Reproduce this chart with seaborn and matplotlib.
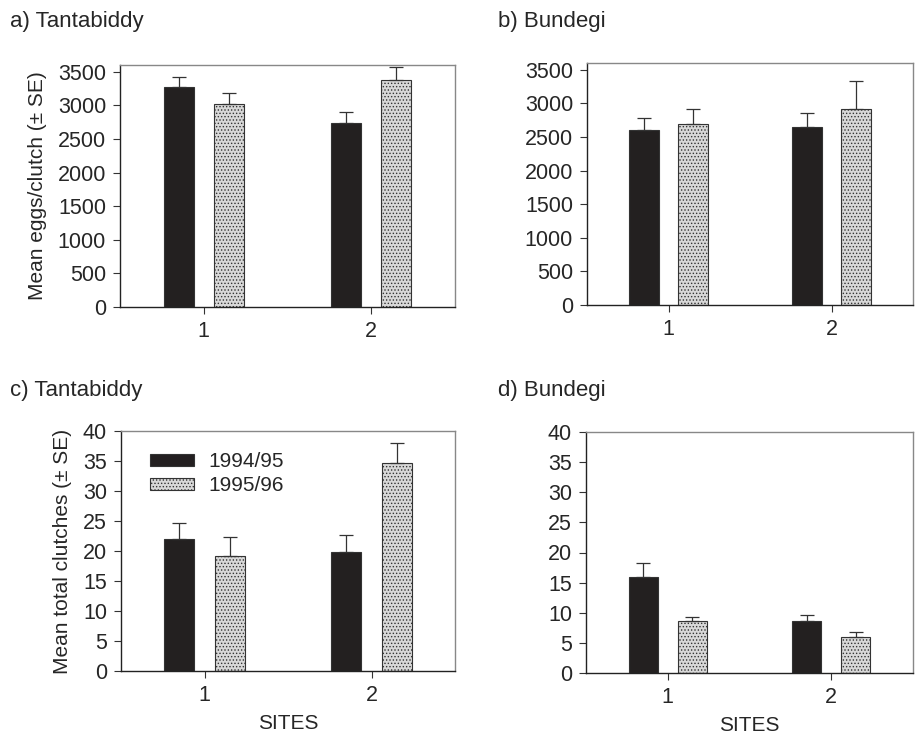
import numpy as np
import pandas as pd
import matplotlib
matplotlib.use('Agg')
import matplotlib.pyplot as plt
import seaborn as sns
from matplotlib.patches import Patch

# Data
sites = ['1', '2']
seasons = ['1994/95', '1995/96']

# a) Tantabiddy, eggs per clutch
eggs_tanta_9495 = [3280, 2730]
eggs_tanta_9596 = [3015, 3370]
eggs_tanta_se_9495 = [140, 165]
eggs_tanta_se_9596 = [175, 200]

# b) Bundegi, eggs per clutch
eggs_bund_9495 = [2600, 2650]
eggs_bund_9596 = [2690, 2915]
eggs_bund_se_9495 = [175, 205]
eggs_bund_se_9596 = [225, 410]

# c) Tantabiddy, total clutches
clutch_tanta_9495 = [22.0, 19.8]
clutch_tanta_9596 = [19.2, 34.6]
clutch_tanta_se_9495 = [2.6, 2.9]
clutch_tanta_se_9596 = [3.2, 3.4]

# d) Bundegi, total clutches
clutch_bund_9495 = [15.9, 8.7]
clutch_bund_9596 = [8.6, 5.9]
clutch_bund_se_9495 = [2.4, 0.9]
clutch_bund_se_9596 = [0.7, 0.9]

sns.set_theme(style='white')
plt.rcParams['font.family'] = ['Liberation Sans', 'DejaVu Sans']
plt.rcParams['hatch.color'] = '#a0a0a0'
plt.rcParams['hatch.linewidth'] = 0.6

colors = {'1994/95': '#231f20', '1995/96': '#d8d8d8'}

W, H = 915, 747


def rect(l, t, r, b):
    return [l / W, 1 - b / H, (r - l) / W, (b - t) / H]


def panel(fig, box, v1, v2, e1, e2, ymax, ystep, ylabel=None, xlabel=None, legend=False):
    ax = fig.add_axes(rect(*box))
    df = pd.DataFrame({
        'site': sites * 2,
        'season': [seasons[0]] * 2 + [seasons[1]] * 2,
        'value': list(v1) + list(v2),
        'se': list(e1) + list(e2),
    })
    sns.barplot(data=df, x='site', y='value', hue='season', order=sites, hue_order=seasons,
                palette=colors, errorbar=None, width=0.6, gap=0.4, ax=ax,
                edgecolor='#333333', linewidth=0.8, legend=False)
    # one-sided standard error bars on each bar
    for patch, (_, row) in zip(ax.patches, df.iterrows()):
        xc = patch.get_x() + patch.get_width() / 2
        ax.errorbar(xc, row['value'], yerr=[[0], [row['se']]], fmt='none',
                    ecolor='#333333', elinewidth=0.9, capsize=5, capthick=0.9)
    for patch in ax.patches[2:4]:
        patch.set_hatch('.....')
    ax.set_xlim(-0.5, 1.5)
    ax.set_ylim(0, ymax)
    ax.set_yticks(np.arange(0, ymax + 0.5 * ystep, ystep))
    for s in ['left', 'bottom']:
        ax.spines[s].set_color('#222222')
        ax.spines[s].set_linewidth(1.0)
    for s in ['top', 'right']:
        ax.spines[s].set_color('#888888')
        ax.spines[s].set_linewidth(1.0)
    ax.tick_params(axis='both', which='both', direction='out', length=5, width=0.8,
                   color='#333333', labelsize=15.5, left=True, bottom=True, pad=5)
    ax.set_xlabel(xlabel if xlabel else '', fontsize=15, labelpad=6)
    ax.set_ylabel(ylabel if ylabel else '', fontsize=15, labelpad=8)
    if legend:
        handles = [Patch(facecolor=colors[s], edgecolor='#333333', linewidth=0.8,
                         hatch='.....' if s == '1995/96' else None) for s in seasons]
        ax.legend(handles, seasons, loc='upper left', bbox_to_anchor=(0.03, 0.99), frameon=False,
                  fontsize=15, handlelength=2.1, handleheight=0.55, labelspacing=0.25,
                  handletextpad=0.7)
    return ax


fig = plt.figure(figsize=(9.15, 7.47), dpi=100)

panel(fig, (120, 65, 455, 307), eggs_tanta_9495, eggs_tanta_9596,
      eggs_tanta_se_9495, eggs_tanta_se_9596, 3600, 500, ylabel='Mean eggs/clutch (± SE)')
panel(fig, (587, 63, 913, 305), eggs_bund_9495, eggs_bund_9596,
      eggs_bund_se_9495, eggs_bund_se_9596, 3600, 500)
panel(fig, (121, 431, 455, 671), clutch_tanta_9495, clutch_tanta_9596,
      clutch_tanta_se_9495, clutch_tanta_se_9596, 40, 5, ylabel='Mean total clutches (± SE)',
      xlabel='SITES', legend=True)
panel(fig, (586, 432, 913, 673), clutch_bund_9495, clutch_bund_9596,
      clutch_bund_se_9495, clutch_bund_se_9596, 40, 5, xlabel='SITES')

titles = ['a) Tantabiddy', 'b) Bundegi', 'c) Tantabiddy', 'd) Bundegi']
title_pos = [(10, 22), (498, 22), (10, 390), (498, 390)]
for t, (px, py) in zip(titles, title_pos):
    fig.text(px / W, 1 - py / H, t, fontsize=16, ha='left', va='center')

fig.savefig('out.png', dpi=100)
